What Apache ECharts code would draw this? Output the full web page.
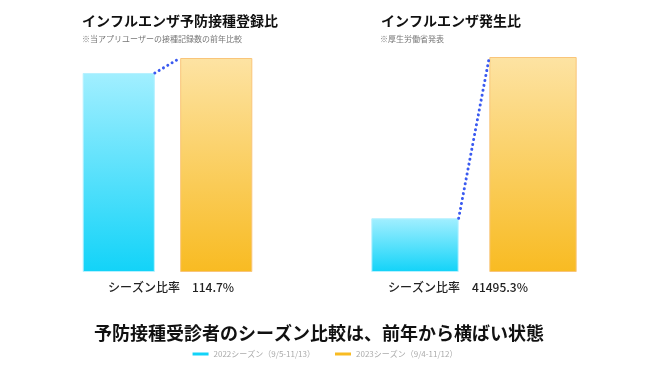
<!DOCTYPE html>
<html><head><meta charset="utf-8">
<script src="https://cdn.jsdelivr.net/npm/echarts@6/dist/echarts.min.js"></script>
<style>html,body{margin:0;padding:0;background:#fff}#c{width:650px;height:366px}</style>
</head><body><div id="c"></div>
<script>
// Data
const categories = ['2022', '2023'];
const seriesNames = ['2022シーズン（9/5-11/13）', '2023シーズン（9/4-11/12）'];
const vaccineValues = [93, 100];     // relative bar heights (left panel)
const outbreakValues = [25, 100];    // relative bar heights (right panel)
const panelTitles = ['インフルエンザ予防接種登録比', 'インフルエンザ発生比'];
const panelNotes = ['※当アプリユーザーの接種記録数の前年比較', '※厚生労働省発表'];
const ratioLabels = ['シーズン比率　114.7%', 'シーズン比率　41495.3%'];
const caption = '予防接種受診者のシーズン比較は、前年から横ばい状態';

const FONT = '"Noto Sans CJK JP", "Noto Sans", sans-serif';
const BW = 0.74;
const solidColors = ['#12d3f8', '#f8bb22'];

const cyanGrad = new echarts.graphic.LinearGradient(0, 0, 0, 1, [
  {offset: 0, color: '#a2efff'}, {offset: 1, color: '#12d3f8'}]);
const orangeGrad = new echarts.graphic.LinearGradient(0, 0, 0, 1, [
  {offset: 0, color: '#fde3a3'}, {offset: 1, color: '#f8bb22'}]);

function barSeries(nameIdx, gridIdx, values) {
  const data = values.map((v, i) => i === nameIdx ? v : '-');
  return {
    name: seriesNames[nameIdx], type: 'bar',
    xAxisIndex: gridIdx, yAxisIndex: gridIdx,
    data: data, barWidth: (BW * 100) + '%', barGap: '-100%',
    itemStyle: {
      color: nameIdx === 0 ? cyanGrad : orangeGrad,
      borderColor: nameIdx === 0 ? '#b6f1ff' : '#f9c57a',
      borderWidth: 1
    },
    silent: true
  };
}

function connector(gridIdx, values) {
  return {
    name: 'connector' + gridIdx, type: 'custom',
    xAxisIndex: gridIdx, yAxisIndex: gridIdx,
    data: [[0, values[0], values[1]]],
    renderItem: function (params, api) {
      const p0 = api.coord([0, api.value(1)]);
      const p1 = api.coord([1, api.value(2)]);
      const band = api.size([1, 0])[0];
      const half = band * BW / 2;
      return {
        type: 'line',
        shape: {x1: p0[0] + half, y1: p0[1], x2: p1[0] - half, y2: p1[1]},
        style: {stroke: '#3a5af0', lineWidth: 3, lineDash: [0.01, 5], lineCap: 'round'}
      };
    },
    z: 5, silent: true
  };
}

const chart = echarts.init(document.getElementById('c'));
chart.setOption({
  animation: false,
  backgroundColor: '#fff',
  textStyle: {fontFamily: FONT},
  title: [
    {text: panelTitles[0], left: 77, top: 9, textStyle: {fontSize: 14, fontWeight: 'bold', color: '#111', fontFamily: FONT}},
    {text: panelNotes[0], left: 77, top: 30, textStyle: {fontSize: 8, fontWeight: 'normal', color: '#777', fontFamily: FONT}},
    {text: panelTitles[1], left: 376, top: 9, textStyle: {fontSize: 14, fontWeight: 'bold', color: '#111', fontFamily: FONT}},
    {text: panelNotes[1], left: 375, top: 30, textStyle: {fontSize: 8, fontWeight: 'normal', color: '#777', fontFamily: FONT}},
    {text: ratioLabels[0], left: 166, top: 276, textAlign: 'center', textStyle: {fontSize: 12, fontWeight: 500, color: '#222', fontFamily: FONT}},
    {text: ratioLabels[1], left: 453, top: 276, textAlign: 'center', textStyle: {fontSize: 12, fontWeight: 500, color: '#222', fontFamily: FONT}},
    {text: caption, left: 314, top: 319, textAlign: 'center', textStyle: {fontSize: 18, fontWeight: 'bold', color: '#111', fontFamily: FONT}}
  ],
  legend: {
    data: [
      {name: seriesNames[0], itemStyle: {color: solidColors[0], borderWidth: 0}},
      {name: seriesNames[1], itemStyle: {color: solidColors[1], borderWidth: 0}}
    ],
    top: 345, left: 'center',
    icon: 'rect', itemWidth: 16, itemHeight: 3, itemGap: 20,
    textStyle: {fontSize: 8, color: '#aaa', fontFamily: FONT},
    selectedMode: false
  },
  grid: [
    {left: 70, right: 385, top: 58, bottom: 94},
    {left: 356, right: 58, top: 57, bottom: 94}
  ],
  xAxis: [
    {type: 'category', gridIndex: 0, data: categories, show: false},
    {type: 'category', gridIndex: 1, data: categories, show: false}
  ],
  yAxis: [
    {type: 'value', gridIndex: 0, min: 0, max: 100, show: false},
    {type: 'value', gridIndex: 1, min: 0, max: 100, show: false}
  ],
  series: [
    barSeries(0, 0, vaccineValues),
    barSeries(1, 0, vaccineValues),
    barSeries(0, 1, outbreakValues),
    barSeries(1, 1, outbreakValues),
    connector(0, vaccineValues),
    connector(1, outbreakValues)
  ]
});
</script></body></html>
